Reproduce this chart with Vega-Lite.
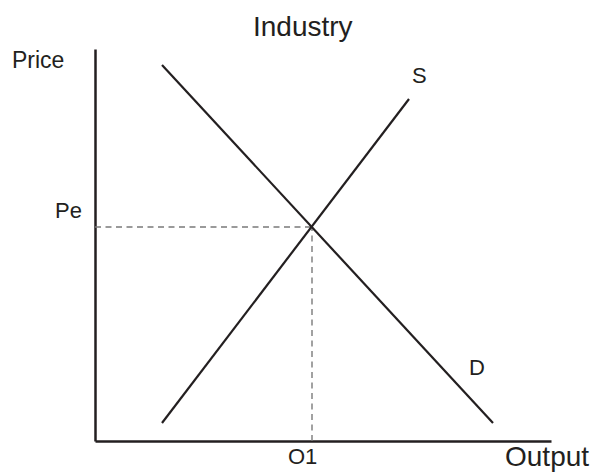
{
  "$schema": "https://vega.github.io/schema/vega-lite/v6.json",
  "width": 456,
  "height": 392,
  "autosize": {"type": "none"},
  "padding": {"left": 95, "top": 49, "right": 45, "bottom": 31},
  "background": "white",
  "config": {"view": {"stroke": null}},
  "datasets": {
    "curves": [
      {"curve": "D", "q": 67, "p": 376},
      {"curve": "D", "q": 398, "p": 18},
      {"curve": "S", "q": 67, "p": 18},
      {"curve": "S", "q": 314, "p": 342}
    ],
    "guides": [
      {"g": "h", "q": 0, "p": 214},
      {"g": "h", "q": 217, "p": 214},
      {"g": "v", "q": 217, "p": 0},
      {"g": "v", "q": 217, "p": 214}
    ],
    "labels": [
      {"t": "Industry", "q": 158, "p": 405, "s": 28},
      {"t": "Price", "q": -83, "p": 373, "s": 23},
      {"t": "Pe", "q": -40, "p": 223, "s": 22},
      {"t": "O1", "q": 193, "p": -23, "s": 22},
      {"t": "Output", "q": 410, "p": -25, "s": 28},
      {"t": "S", "q": 317, "p": 358, "s": 22},
      {"t": "D", "q": 374, "p": 66, "s": 22}
    ]
  },
  "encoding": {
    "x": {"field": "q", "type": "quantitative", "scale": {"domain": [0, 456], "nice": false, "zero": false},
      "axis": {"title": null, "labels": false, "ticks": false, "grid": false, "domainColor": "#231f20", "domainWidth": 2.5}},
    "y": {"field": "p", "type": "quantitative", "scale": {"domain": [0, 392], "nice": false, "zero": false},
      "axis": {"title": null, "labels": false, "ticks": false, "grid": false, "domainColor": "#231f20", "domainWidth": 2.5}}
  },
  "layer": [
    {
      "data": {"name": "guides"},
      "mark": {"type": "line", "color": "#7a7a7a", "strokeWidth": 1.4, "strokeDash": [6, 4.5]},
      "encoding": {"detail": {"field": "g", "type": "nominal"}}
    },
    {
      "data": {"name": "curves"},
      "mark": {"type": "line", "color": "#231f20", "strokeWidth": 2.2},
      "encoding": {"detail": {"field": "curve", "type": "nominal"}}
    },
    {
      "data": {"name": "labels"},
      "mark": {"type": "text", "align": "left", "baseline": "alphabetic", "font": "Liberation Sans", "color": "#231f20", "clip": false},
      "encoding": {
        "text": {"field": "t", "type": "nominal"},
        "size": {"field": "s", "type": "quantitative", "scale": null}
      }
    }
  ]
}
